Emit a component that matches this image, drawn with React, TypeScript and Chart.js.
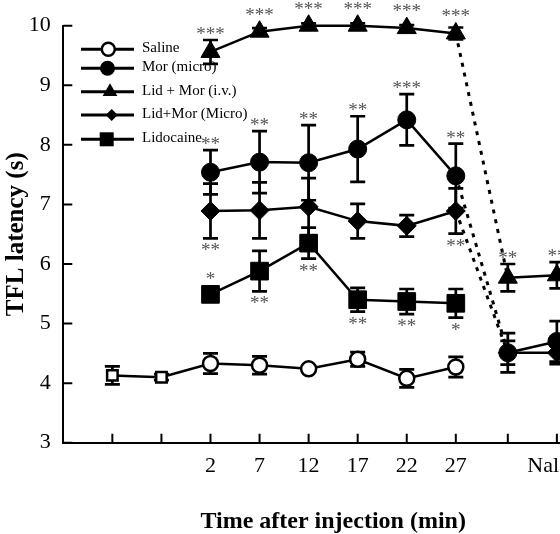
import React, { useEffect, useRef } from 'react';
import { Chart, registerables } from 'chart.js';

Chart.register(...registerables);

// ---------- data ----------
const timePoints = [-8, -3, 2, 7, 12, 17, 22, 27, 32.3, 37.3];
const timeLabels = ['', '', '2', '7', '12', '17', '22', '27', '', ''];
const naloxoneLabel = 'Naloxone';
const naloxoneLabelAt = 38.65;
const yTickValues = [3, 4, 5, 6, 7, 8, 9, 10];

const salineMean = [4.13, 4.1, 4.33, 4.3, 4.24, 4.4, 4.08, 4.27, null, null];
const salineSem = [0.15, 0.05, 0.17, 0.15, 0.05, 0.12, 0.15, 0.17, null, null];

const morMicroMean = [null, null, 7.54, 7.71, 7.7, 7.93, 8.42, 7.48, 4.51, 4.7];
const morMicroSem = [null, null, 0.37, 0.52, 0.63, 0.55, 0.43, 0.54, 0.33, 0.34];

const lidMorIvMean = [null, null, 9.56, 9.9, 10.0, 10.0, 9.96, 9.87, 5.77, 5.81];
const lidMorIvSem = [null, null, 0.2, 0.06, 0.04, 0.04, 0.05, 0.1, 0.23, 0.22];

const lidMorMicroMean = [null, null, 6.89, 6.9, 6.96, 6.72, 6.64, 6.89, 4.51, 4.51];
const lidMorMicroSem = [null, null, 0.46, 0.47, 0.48, 0.29, 0.18, 0.38, 0.2, 0.19];

const lidocaineMean = [null, null, 5.49, 5.88, 6.35, 5.4, 5.37, 5.34, null, null];
const lidocaineSem = [null, null, 0.05, 0.34, 0.26, 0.2, 0.21, 0.24, null, null];

const noStars = ['', '', '', '', '', '', '', '', '', ''];
const morMicroStarsAbove = ['', '', '**', '**', '**', '**', '***', '**', '', ''];
const lidMorIvStarsAbove = ['', '', '***', '***', '***', '***', '***', '***', '**', '**'];
const lidMorMicroStarsBelow = ['', '', '**', '', '', '', '', '**', '', ''];
const lidocaineStarsAbove = ['', '', '*', '', '', '', '', '', '', ''];
const lidocaineStarsBelow = ['', '', '', '**', '**', '**', '**', '*', '', ''];

const seriesLabels = ['Saline', 'Mor (micro)', 'Lid + Mor (i.v.)', 'Lid+Mor (Micro)', 'Lidocaine'];

// ---------- styling ----------
const SERIF = '"Liberation Serif", "Times New Roman", serif';
const BREAK_INDEX = 7;

const axisLabelTicks = [...timePoints.slice(0, 8), naloxoneLabelAt];
const axisLabelTexts = [...timeLabels.slice(0, 8), naloxoneLabel];

function pts(mean: (number | null)[]) {
  return timePoints.map((x, i) => ({ x, y: mean[i] }));
}

function drawMarker(ctx: CanvasRenderingContext2D, style: string, x: number, y: number, r: number, fill: string, bw: number) {
  ctx.save();
  ctx.fillStyle = fill;
  ctx.strokeStyle = '#000';
  ctx.lineWidth = bw;
  ctx.beginPath();
  if (style === 'circle') {
    ctx.arc(x, y, r, 0, Math.PI * 2);
  } else if (style === 'triangle') {
    ctx.moveTo(x, y - r);
    ctx.lineTo(x + r * Math.sin((2 * Math.PI) / 3), y + r / 2);
    ctx.lineTo(x - r * Math.sin((2 * Math.PI) / 3), y + r / 2);
    ctx.closePath();
  } else if (style === 'rectRot') {
    ctx.moveTo(x - r, y);
    ctx.lineTo(x, y - r);
    ctx.lineTo(x + r, y);
    ctx.lineTo(x, y + r);
    ctx.closePath();
  } else {
    ctx.rect(x - r, y - r, 2 * r, 2 * r);
  }
  ctx.fill();
  if (bw > 0) ctx.stroke();
  ctx.restore();
}

const errorBarPlugin = {
  id: 'errorBars',
  beforeDatasetsDraw(chart: any) {
    const ctx = chart.ctx as CanvasRenderingContext2D;
    const ys = chart.scales.y;
    chart.data.datasets.forEach((ds: any, di: number) => {
      const meta = chart.getDatasetMeta(di);
      meta.data.forEach((pt: any, i: number) => {
        const v = ds.data[i].y;
        const e = ds.sem[i];
        if (v == null || e == null) return;
        const x = pt.x;
        const yt = ys.getPixelForValue(v + e);
        const yb = ys.getPixelForValue(v - e);
        ctx.save();
        ctx.strokeStyle = '#000';
        ctx.lineWidth = 2.7;
        ctx.beginPath();
        ctx.moveTo(x, yt);
        ctx.lineTo(x, yb);
        ctx.moveTo(x - 7.5, yt);
        ctx.lineTo(x + 7.5, yt);
        ctx.moveTo(x - 7.5, yb);
        ctx.lineTo(x + 7.5, yb);
        ctx.stroke();
        ctx.restore();
      });
    });
  },
};

const starsPlugin = {
  id: 'stars',
  afterDatasetsDraw(chart: any) {
    const ctx = chart.ctx as CanvasRenderingContext2D;
    const ys = chart.scales.y;
    ctx.save();
    ctx.font = '19px ' + SERIF;
    ctx.fillStyle = '#555555';
    ctx.textAlign = 'center';
    ctx.textBaseline = 'alphabetic';
    chart.data.datasets.forEach((ds: any, di: number) => {
      const meta = chart.getDatasetMeta(di);
      meta.data.forEach((pt: any, i: number) => {
        const v = ds.data[i].y;
        if (v == null) return;
        const e = ds.sem[i] || 0;
        const py = ys.getPixelForValue(v);
        if (ds.starsAbove[i]) {
          const edge = Math.min(ys.getPixelForValue(v + e), py - ds.markerTop);
          ctx.fillText(ds.starsAbove[i], pt.x, edge);
        }
        if (ds.starsBelow[i]) {
          const edge = Math.max(ys.getPixelForValue(v - e), py + ds.markerBottom);
          ctx.fillText(ds.starsBelow[i], pt.x, edge + 18);
        }
      });
    });
    ctx.restore();
  },
};

const axisTickPlugin = {
  id: 'inwardTicks',
  afterDraw(chart: any) {
    const ctx = chart.ctx as CanvasRenderingContext2D;
    const { left, bottom } = chart.chartArea;
    const xs = chart.scales.x;
    const ys = chart.scales.y;
    ctx.save();
    ctx.strokeStyle = '#000';
    ctx.lineWidth = 2;
    ctx.beginPath();
    yTickValues.forEach((v) => {
      const py = ys.getPixelForValue(v);
      ctx.moveTo(left, py);
      ctx.lineTo(left + 9, py);
    });
    timePoints.forEach((v) => {
      const px = xs.getPixelForValue(v);
      ctx.moveTo(px, bottom);
      ctx.lineTo(px, bottom - 9);
    });
    ctx.stroke();
    ctx.restore();
  },
};

const legendRows = [
  { y: 49.3, mx: 108.3, style: 'circle', r: 6.5, fill: '#fff', bw: 2.5 },
  { y: 68.3, mx: 107.5, style: 'circle', r: 7.5, fill: '#000', bw: 0 },
  { y: 91.7, mx: 110, style: 'triangle', r: 8.5, fill: '#000', bw: 0 },
  { y: 115, mx: 111.7, style: 'rectRot', r: 6, fill: '#000', bw: 0 },
  { y: 139.3, mx: 106.7, style: 'rect', r: 7, fill: '#000', bw: 0 },
];

const legendPlugin = {
  id: 'customLegend',
  afterDraw(chart: any) {
    const ctx = chart.ctx as CanvasRenderingContext2D;
    ctx.save();
    chart.data.datasets.forEach((ds: any, i: number) => {
      const row = legendRows[i];
      ctx.strokeStyle = '#000';
      ctx.lineWidth = 3;
      ctx.beginPath();
      ctx.moveTo(81, row.y);
      ctx.lineTo(134, row.y);
      ctx.stroke();
      drawMarker(ctx, row.style, row.mx, row.y, row.r, row.fill, row.bw);
      ctx.fillStyle = '#000';
      ctx.font = '15px ' + SERIF;
      ctx.textAlign = 'left';
      ctx.textBaseline = 'middle';
      ctx.fillText(ds.label, 142, row.y - 1);
    });
    ctx.restore();
  },
};

function makeDataset(label: string, mean: (number | null)[], sem: (number | null)[], opts: any) {
  return {
    label,
    data: pts(mean),
    sem,
    borderColor: '#000',
    borderWidth: 2.5,
    pointBorderColor: '#000',
    spanGaps: false,
    clip: false,
    tension: 0,
    segment: {
      borderDash: (c: any) => (c.p0DataIndex === BREAK_INDEX ? [4, 6] : undefined),
      borderWidth: (c: any) => (c.p0DataIndex === BREAK_INDEX ? 3 : undefined),
    },
    ...opts,
  };
}

export default function App() {
  const ref = useRef<HTMLCanvasElement | null>(null);

  useEffect(() => {
    if (!ref.current) return;
    const datasets = [
      makeDataset(seriesLabels[0], salineMean, salineSem, {
        pointStyle: ['rect', 'rect', 'circle', 'circle', 'circle', 'circle', 'circle', 'circle', 'circle', 'circle'],
        pointRadius: [7.4, 7.4, 7.5, 7.5, 7.5, 7.5, 7.5, 7.5, 7.5, 7.5],
        pointBackgroundColor: '#fff',
        pointBorderWidth: 2.5,
        starsAbove: noStars,
        starsBelow: noStars,
        markerTop: 9,
        markerBottom: 9,
      }),
      makeDataset(seriesLabels[1], morMicroMean, morMicroSem, {
        pointStyle: 'circle',
        pointRadius: 9,
        pointBackgroundColor: '#000',
        pointBorderWidth: 1,
        starsAbove: morMicroStarsAbove,
        starsBelow: noStars,
        markerTop: 9,
        markerBottom: 9,
      }),
      makeDataset(seriesLabels[2], lidMorIvMean, lidMorIvSem, {
        pointStyle: 'triangle',
        pointRadius: 11,
        pointBackgroundColor: '#000',
        pointBorderWidth: 1,
        starsAbove: lidMorIvStarsAbove,
        starsBelow: noStars,
        markerTop: 11,
        markerBottom: 5.5,
      }),
      makeDataset(seriesLabels[3], lidMorMicroMean, lidMorMicroSem, {
        pointStyle: 'rectRot',
        pointRadius: 9.5,
        pointBackgroundColor: '#000',
        pointBorderWidth: 1,
        starsAbove: noStars,
        starsBelow: lidMorMicroStarsBelow,
        markerTop: 9.5,
        markerBottom: 9.5,
      }),
      makeDataset(seriesLabels[4], lidocaineMean, lidocaineSem, {
        pointStyle: 'rect',
        pointRadius: 12.5,
        pointBackgroundColor: '#000',
        pointBorderWidth: 1,
        starsAbove: lidocaineStarsAbove,
        starsBelow: lidocaineStarsBelow,
        markerTop: 9,
        markerBottom: 9,
      }),
    ];

    const chart = new Chart(ref.current, {
      type: 'line',
      data: { datasets: datasets as any },
      options: {
        responsive: false,
        animation: false,
        events: [],
        layout: { padding: { left: 0, right: 25, top: 20.7, bottom: 0 } },
        plugins: {
          legend: { display: false },
          tooltip: { enabled: false },
        },
        scales: {
          x: {
            type: 'linear',
            min: -13,
            max: 42,
            afterBuildTicks: (s: any) => {
              s.ticks = axisLabelTicks.map((v) => ({ value: v }));
            },
            afterFit: (s: any) => {
              s.height = 91.3;
            },
            ticks: {
              autoSkip: false,
              maxRotation: 0,
              padding: 10,
              color: '#000',
              font: { family: SERIF, size: 22 },
              callback: (_v: any, idx: number) => axisLabelTexts[idx],
            },
            grid: { drawOnChartArea: false, drawTicks: false },
            border: { color: '#000', width: 2 },
            title: {
              display: true,
              text: 'Time after injection (min)',
              color: '#000',
              font: { family: SERIF, size: 24, weight: 'bold', lineHeight: 1 },
              padding: { top: 0, bottom: 0 },
            },
          },
          y: {
            type: 'linear',
            min: 3,
            max: 10,
            afterFit: (s: any) => {
              s.width = 63.3;
            },
            ticks: {
              stepSize: 1,
              padding: 12.5,
              color: '#000',
              font: { family: SERIF, size: 22 },
            },
            grid: { drawOnChartArea: false, drawTicks: false },
            border: { color: '#000', width: 2 },
            title: {
              display: true,
              text: 'TFL latency (s)',
              color: '#000',
              font: { family: SERIF, size: 25, weight: 'bold', lineHeight: 1 },
              padding: { top: 4, bottom: 0 },
            },
          },
        },
      } as any,
      plugins: [errorBarPlugin, starsPlugin, axisTickPlugin, legendPlugin],
    });

    return () => chart.destroy();
  }, []);

  return (
    <div style={{ position: 'fixed', left: 0, top: 0, width: 560, height: 534, overflow: 'hidden', background: '#fff' }}>
      <canvas ref={ref} width={628} height={534} style={{ display: 'block' }} />
    </div>
  );
}
